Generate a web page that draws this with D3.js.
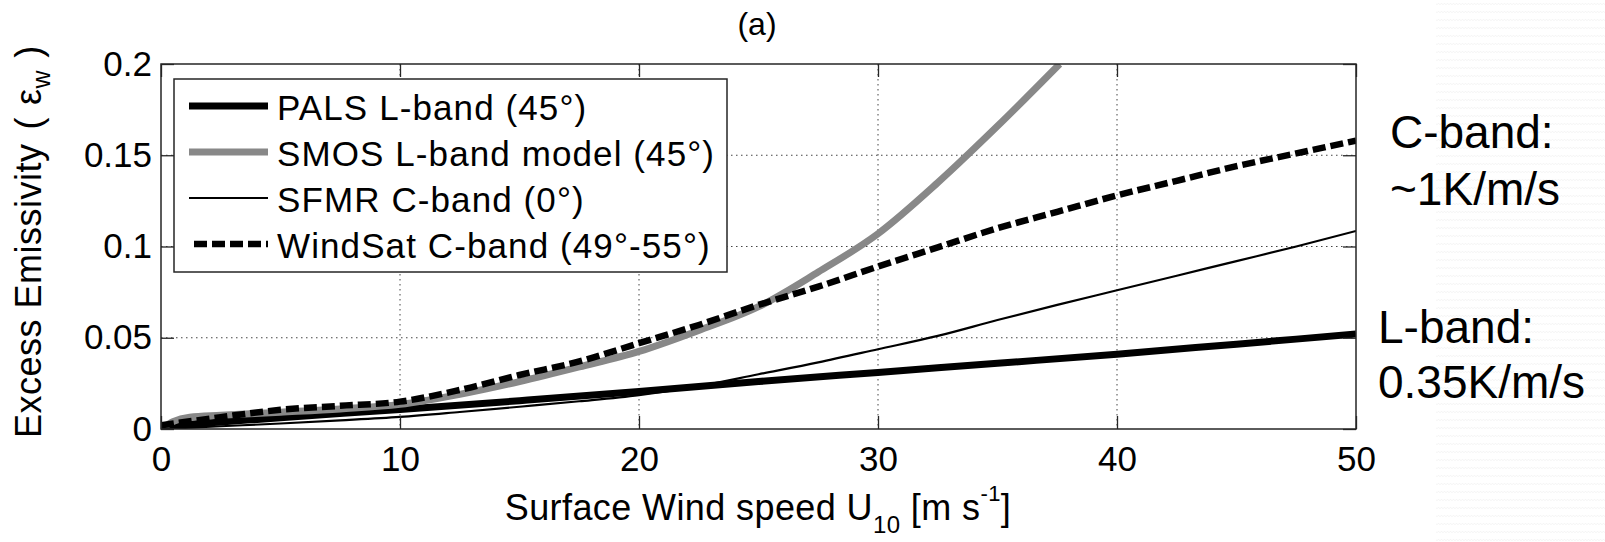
<!DOCTYPE html>
<html>
<head>
<meta charset="utf-8">
<title>Excess Emissivity vs Wind Speed</title>
<style type="text/css">
  body{ margin:0; background:#fff; }
  svg{ display:block; font-family:"Liberation Sans", Arial, Helvetica, sans-serif; }
  .grid line{ stroke:#444; stroke-width:1; stroke-dasharray:1.5,3.5; }
  .tick text{ fill:#000; }
</style>
</head>
<body>
<script src="https://cdnjs.cloudflare.com/ajax/libs/d3/7.8.5/d3.min.js"></script>
<script>

// axis ticks
var xTicks = [0, 10, 20, 30, 40, 50],
    yTicks = [0, 0.05, 0.1, 0.15, 0.2],
    yTickLabels = ["0", "0.05", "0.1", "0.15", "0.2"];

// series (wind speed m/s, excess emissivity)
var palsU = [0, 2.5, 5, 10, 15, 20, 25, 30, 35, 40, 45, 50];
var palsE = [0.0015, 0.0038, 0.0062, 0.0107, 0.0155, 0.0205, 0.026, 0.031, 0.036, 0.041, 0.0465, 0.052];

var smosU = [0, 0.5, 1.2, 2.5, 5, 7.5, 10, 12.5, 15, 17.5, 20, 22.5, 25, 27.5, 30, 32.5, 35, 37.6];
var smosE = [0, 0.004, 0.0065, 0.0075, 0.0092, 0.011, 0.0135, 0.019, 0.026, 0.034, 0.0425, 0.054, 0.067, 0.086, 0.107, 0.135, 0.166, 0.2];

var sfmrU = [0, 2.5, 5, 7.5, 10, 12.5, 15, 17.5, 20, 22.5, 25, 27.5, 30, 32.5, 35, 37.5, 40, 42.5, 45, 47.5, 50];
var sfmrE = [0, 0.0015, 0.003, 0.0047, 0.0066, 0.0093, 0.0122, 0.0152, 0.0186, 0.0235, 0.030, 0.0365, 0.0437, 0.051, 0.0597, 0.068, 0.076, 0.084, 0.092, 0.1, 0.1085];

var windsatU = [0, 2.5, 5, 7.5, 10, 12.5, 15, 17.5, 20, 22.5, 25, 27.5, 30, 32.5, 35, 37.5, 40, 42.5, 45, 47.5, 50];
var windsatE = [0.002, 0.0065, 0.0105, 0.0127, 0.015, 0.0214, 0.0296, 0.037, 0.047, 0.057, 0.068, 0.078, 0.089, 0.0995, 0.110, 0.119, 0.128, 0.136, 0.144, 0.151, 0.158];

var seriesNames = ["PALS L-band (45°)", "SMOS L-band model (45°)", "SFMR C-band (0°)", "WindSat C-band (49°-55°)"];

// styles per series
var styles = [
    {stroke: "#000",    width: 7,   dash: null},
    {stroke: "#888888", width: 7,   dash: null},
    {stroke: "#000",    width: 2.2, dash: null},
    {stroke: "#000",    width: 6.5, dash: "13,5"}
];

var width = 1605, height = 542;
var plot = {left: 161, right: 1356, top: 64, bottom: 429};

var svg = d3.select("body").append("svg")
    .attr("width", width)
    .attr("height", height);

// faint slide texture on the right
var defs = svg.append("defs");
var pat = defs.append("pattern")
    .attr("id", "wave")
    .attr("width", 6).attr("height", 8)
    .attr("patternUnits", "userSpaceOnUse");
pat.append("path")
    .attr("d", "M0,5 L1.5,3 L3,5 L4.5,3 L6,5")
    .attr("fill", "none")
    .attr("stroke", "#f0f0f0")
    .attr("stroke-width", 0.6);

svg.append("rect").attr("width", width).attr("height", height).attr("fill", "#fff");
svg.append("rect")
    .attr("x", 1436).attr("y", 0)
    .attr("width", width - 1436).attr("height", height)
    .attr("fill", "url(#wave)");

defs.append("clipPath").attr("id", "plotclip")
  .append("rect")
    .attr("x", plot.left).attr("y", plot.top)
    .attr("width", plot.right - plot.left).attr("height", plot.bottom - plot.top);

var x = d3.scaleLinear().domain([0, 50]).range([plot.left, plot.right]);
var y = d3.scaleLinear().domain([0, 0.2]).range([plot.bottom, plot.top]);

// dotted grid
var grid = svg.append("g").attr("class", "grid");
grid.selectAll("line.v")
    .data(xTicks.slice(1, -1))
    .enter().append("line")
    .attr("x1", function(d){ return x(d); })
    .attr("x2", function(d){ return x(d); })
    .attr("y1", plot.top).attr("y2", plot.bottom);
grid.selectAll("line.h")
    .data(yTicks.slice(1, -1))
    .enter().append("line")
    .attr("x1", plot.left).attr("x2", plot.right)
    .attr("y1", function(d){ return y(d); })
    .attr("y2", function(d){ return y(d); });

// curves
var line = d3.line()
    .x(function(d){ return x(d[0]); })
    .y(function(d){ return y(d[1]); })
    .curve(d3.curveMonotoneX);

var allU = [palsU, smosU, sfmrU, windsatU],
    allE = [palsE, smosE, sfmrE, windsatE];

var curves = svg.append("g").attr("clip-path", "url(#plotclip)");
allU.forEach(function(u, i){
    var pts = u.map(function(v, k){ return [v, allE[i][k]]; });
    curves.append("path")
        .datum(pts)
        .attr("d", line)
        .attr("fill", "none")
        .attr("stroke", styles[i].stroke)
        .attr("stroke-width", styles[i].width)
        .attr("stroke-dasharray", styles[i].dash)
        .attr("stroke-linejoin", "round");
});

// axes, MATLAB style box with inward ticks
function styleAxis(g){
    g.select(".domain").remove();
    g.selectAll(".tick line").attr("stroke", "#262626").attr("stroke-width", 1.3);
    g.selectAll(".tick text")
        .attr("font-size", 35)
        .attr("font-family", "'Liberation Sans', Arial, Helvetica, sans-serif");
}

svg.append("g")
    .attr("transform", "translate(0," + plot.bottom + ")")
    .call(d3.axisBottom(x).tickValues(xTicks).tickSizeInner(-13).tickSizeOuter(0).tickPadding(17))
    .call(styleAxis);

svg.append("g")
    .attr("transform", "translate(0," + plot.top + ")")
    .call(d3.axisTop(x).tickValues(xTicks).tickSizeInner(-13).tickSizeOuter(0).tickFormat(""))
    .call(styleAxis);

svg.append("g")
    .attr("transform", "translate(" + plot.left + ",0)")
    .call(d3.axisLeft(y).tickValues(yTicks).tickSizeInner(-13).tickSizeOuter(0).tickPadding(9)
          .tickFormat(function(d, i){ return yTickLabels[i]; }))
    .call(styleAxis);

svg.append("g")
    .attr("transform", "translate(" + plot.right + ",0)")
    .call(d3.axisRight(y).tickValues(yTicks).tickSizeInner(-13).tickSizeOuter(0).tickFormat(""))
    .call(styleAxis);

svg.append("rect")
    .attr("x", plot.left).attr("y", plot.top)
    .attr("width", plot.right - plot.left).attr("height", plot.bottom - plot.top)
    .attr("fill", "none")
    .attr("stroke", "#262626")
    .attr("stroke-width", 1.5);

// legend
var legend = svg.append("g");
legend.append("rect")
    .attr("x", 174).attr("y", 79)
    .attr("width", 553).attr("height", 193)
    .attr("fill", "#fff")
    .attr("stroke", "#262626")
    .attr("stroke-width", 1.5);

var item = legend.selectAll("g.item")
    .data(seriesNames)
    .enter().append("g")
    .attr("transform", function(d, i){ return "translate(0," + (120 + i * 46) + ")"; });

item.append("line")
    .attr("x1", function(d, i){ return i == 3 ? 194 : 189; })
    .attr("x2", 268)
    .attr("y1", -14).attr("y2", -14)
    .attr("stroke", function(d, i){ return styles[i].stroke; })
    .attr("stroke-width", function(d, i){ return styles[i].width; })
    .attr("stroke-dasharray", function(d, i){ return styles[i].dash; });

item.append("text")
    .attr("x", 277)
    .attr("font-size", 35)
    .attr("letter-spacing", 1.1)
    .text(function(d){ return d; });

// title
svg.append("text")
    .attr("x", 757).attr("y", 35)
    .attr("text-anchor", "middle")
    .attr("font-size", 32)
    .text("(a)");

// x label
var xl = svg.append("text")
    .attr("x", 758).attr("y", 520)
    .attr("text-anchor", "middle")
    .attr("font-size", 36)
    .attr("letter-spacing", 0.4);
xl.append("tspan").text("Surface Wind speed U");
xl.append("tspan").attr("font-size", 24).attr("dy", 13).text("10");
xl.append("tspan").attr("dy", -13).text(" [m s");
xl.append("tspan").attr("font-size", 22).attr("dy", -19).text("-1");
xl.append("tspan").attr("dy", 19).text("]");

// y label
var yl = svg.append("text")
    .attr("transform", "translate(41,438) rotate(-90)")
    .attr("font-size", 36)
    .attr("letter-spacing", 0.5);
yl.append("tspan").text("Excess Emissivity");
yl.append("tspan").attr("dx", 14).text("(");
yl.append("tspan").attr("dx", 12).text("ε");
yl.append("tspan").attr("font-size", 25).attr("dy", 9).text("w");
yl.append("tspan").attr("dy", -9).attr("dx", 12).text(")");

// side notes
var notes = [
    {t: "C-band:", x: 1390, y: 148},
    {t: "~1K/m/s", x: 1390, y: 205},
    {t: "L-band:", x: 1378, y: 343},
    {t: "0.35K/m/s", x: 1378, y: 398}
];
svg.selectAll("text.note")
    .data(notes)
    .enter().append("text")
    .attr("class", "note")
    .attr("x", function(d){ return d.x; })
    .attr("y", function(d){ return d.y; })
    .attr("font-size", 46)
    .text(function(d){ return d.t; });

</script>
</body>
</html>
